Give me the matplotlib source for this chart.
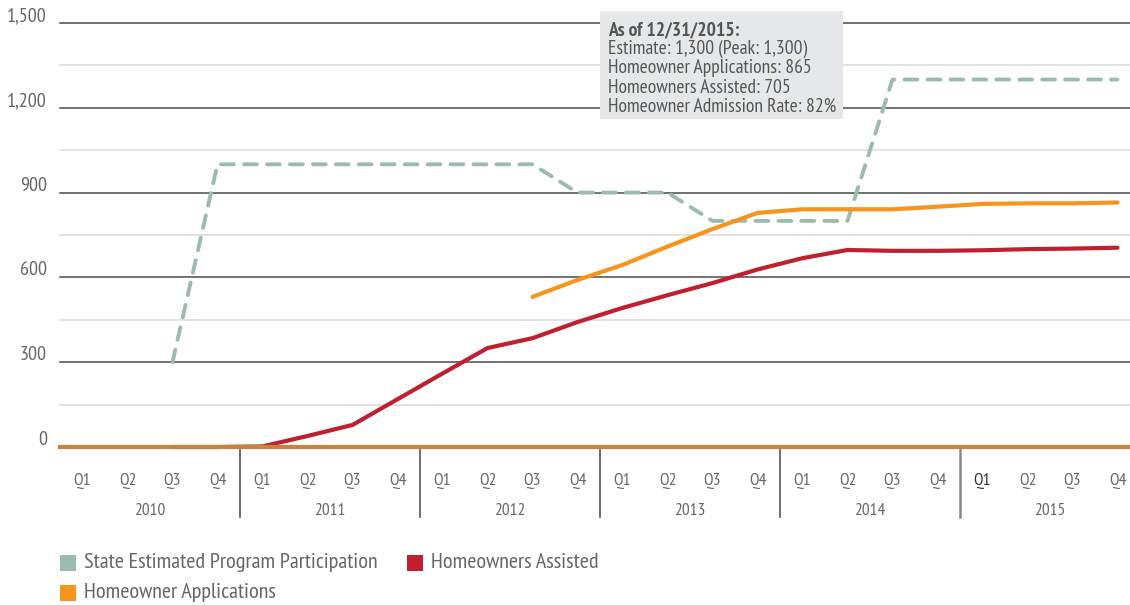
import matplotlib
matplotlib.use("Agg")
import matplotlib.pyplot as plt
import numpy as np
from matplotlib.patches import Rectangle
from matplotlib.transforms import blended_transform_factory

plt.rcParams["font.family"] = ["PT Sans Narrow", "DejaVu Sans"]

QUARTERS = ["Q1", "Q2", "Q3", "Q4"]
YEARS = ["2010", "2011", "2012", "2013", "2014", "2015"]

# quarterly values, 2010 Q1 .. 2015 Q4 (None = not reported yet)
estimated = [None, None, 300,
             1000, 1000, 1000, 1000, 1000, 1000, 1000, 1000,
             900, 900, 900,
             800, 800, 800, 800,
             1300, 1300, 1300, 1300, 1300, 1300]
assisted = [None, None, 0, 0, 2, 39, 78, 169, 260, 350, 385, 442,
            492, 537, 580, 628, 668, 697, 694, 694, 696, 700, 702, 705]
applications = [None] * 10 + [531, 591, 644, 709, 771, 828, 841, 841,
                              841, 850, 860, 862, 862, 865]

y_major = [0, 300, 600, 900, 1200, 1500]
y_minor = [150, 450, 750, 1050, 1350]

GREEN = "#9bbbae"
RED = "#c01f2f"
ORANGE = "#f7941d"
AXIS = "#c8843c"
TEXT = "#666666"


def as_array(values):
    return np.array([np.nan if v is None else v for v in values], dtype=float)


W, H = 1130, 605
fig = plt.figure(figsize=(W / 100, H / 100), dpi=100)
# plot area: 0 sits at y=447px, 1,500 at y=23px
ax = fig.add_axes([60 / W, (H - 447) / H, 1070 / W, 424 / H])
n = len(estimated)
x = np.arange(n)
ax.set_xlim(-0.5, -0.5 + 1070 / 45)
ax.set_ylim(0, 1500)
ax.axis("off")

for v in y_minor:
    ax.axhline(v, color="#dddddd", lw=1.2, zorder=1, clip_on=False)
for v in y_major[1:]:
    ax.axhline(v, color="#4a4a4a", lw=1.1, zorder=1, clip_on=False)

ax.plot(x, as_array(estimated), color=GREEN, lw=2.8, dashes=(3.3, 2.6),
        dash_capstyle="round", zorder=3, clip_on=False)
ax.plot(x, as_array(applications), color=ORANGE, lw=3, solid_capstyle="round",
        solid_joinstyle="miter", zorder=4, clip_on=False)
ax.plot(x, as_array(assisted), color=RED, lw=3, solid_capstyle="round",
        solid_joinstyle="miter", zorder=5, clip_on=False)
ax.axhline(0, color=AXIS, lw=3, zorder=6, clip_on=False)

# y labels sit just above their gridline, right aligned left of the plot
ylab = blended_transform_factory(ax.transAxes, ax.transData)
for v in y_major:
    ax.annotate(f"{v:,}", xy=(-13 / 1070, v), xycoords=ylab, xytext=(0, 2),
                textcoords="offset pixels", ha="right", va="baseline",
                fontsize=14.5, color=TEXT)

# quarter / year category axis
xlab = blended_transform_factory(ax.transData, fig.transFigure)
for i in range(n):
    q = QUARTERS[i % 4]
    color = "#333333" if i == 20 else TEXT
    ax.text(x[i], 1 - 481 / H, q, transform=xlab, ha="center", va="center",
            fontsize=12.5, color=color)
for k, year in enumerate(YEARS):
    ax.text(4 * k + 1.5, 1 - 511 / H, year, transform=xlab, ha="center",
            va="center", fontsize=12.5, color=TEXT)
    if k > 0:
        ax.plot([4 * k - 0.5] * 2, [1 - 447 / H, 1 - 517 / H], transform=xlab,
                color="#555555" if k < 5 else "#888888", lw=1.2 if k < 5 else 1.8,
                clip_on=False, zorder=2)

# tooltip for the last quarter
fig.patches.append(Rectangle((600 / W, 1 - 119 / H), 243 / W, 108 / H,
                             transform=fig.transFigure, facecolor="#e6e7e8",
                             edgecolor="none", zorder=10))
rate = round(100 * assisted[-1] / applications[-1])
tip = [
    (f"As of 12/31/{YEARS[-1]}:", "bold"),
    (f"Estimate: {estimated[-1]:,} (Peak: {max(v for v in estimated if v):,})", "normal"),
    (f"Homeowner Applications: {applications[-1]:,}", "normal"),
    (f"Homeowners Assisted: {assisted[-1]:,}", "normal"),
    (f"Homeowner Admission Rate: {rate}%", "normal"),
]
for j, (line, weight) in enumerate(tip):
    fig.text(608 / W, 1 - (30 + 19.2 * j) / H, line, ha="left", va="center",
             fontsize=14, fontweight=weight, color="#555555", zorder=11)

# legend
legend_items = [
    ("State Estimated Program Participation", GREEN, 60, 563),
    ("Homeowners Assisted", RED, 407, 563),
    ("Homeowner Applications", ORANGE, 60, 593),
]
for label, color, px, py in legend_items:
    fig.patches.append(Rectangle((px / W, 1 - (py + 8) / H), 16 / W, 16 / H,
                                 transform=fig.transFigure, facecolor=color,
                                 edgecolor="none"))
    fig.text((px + 24) / W, 1 - py / H, label, ha="left", va="center",
             fontsize=16, color=TEXT)

fig.savefig("out.png", dpi=100)
